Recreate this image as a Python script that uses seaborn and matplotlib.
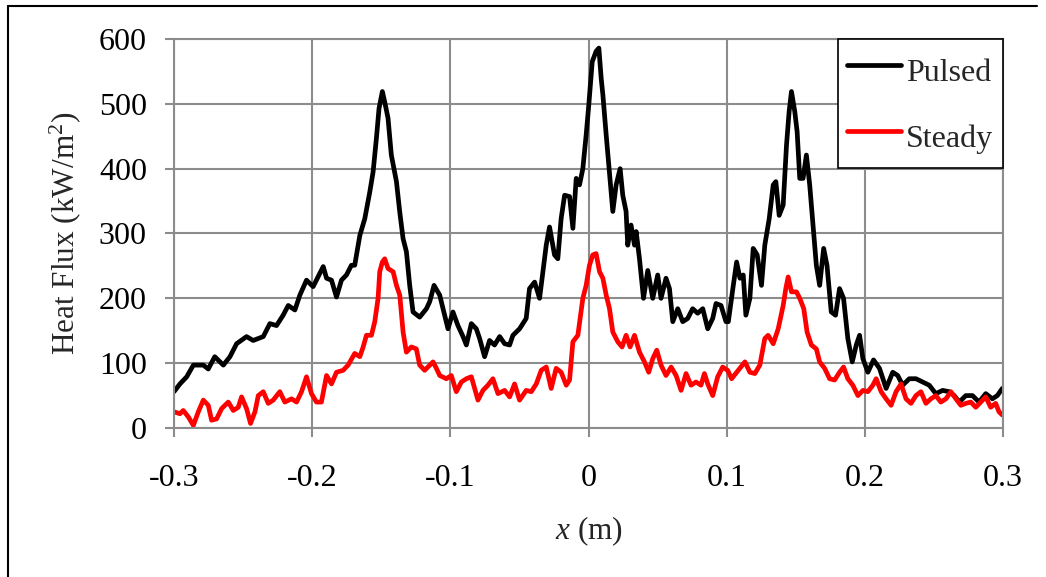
import numpy as np
import pandas as pd
import seaborn as sns
import matplotlib
matplotlib.use("Agg")
import matplotlib.pyplot as plt
from matplotlib.lines import Line2D

# ---- data ----
x_pulsed = [-0.300, -0.2957, -0.2908, -0.2860, -0.2788, -0.2752, -0.2705, -0.2643, -0.2595, -0.2547,
            -0.2475, -0.2427, -0.2354, -0.2306, -0.2258, -0.2210, -0.2173, -0.2125, -0.2089, -0.2041,
            -0.1993, -0.1920, -0.1896, -0.1860, -0.1824, -0.1788, -0.1752, -0.1716, -0.1692, -0.1655,
            -0.1619, -0.1583, -0.1559, -0.1535, -0.1516, -0.1492, -0.1475, -0.1451, -0.1427, -0.1390,
            -0.1366, -0.1342, -0.1318, -0.1294, -0.1270, -0.1222, -0.1173, -0.1149, -0.1118,
            -0.1077, -0.1053, -0.1017, -0.0981, -0.0945, -0.0908, -0.0884, -0.0848, -0.0812, -0.0788,
            -0.0752, -0.0716, -0.0680, -0.0643, -0.0607, -0.0571, -0.0547, -0.0499, -0.0451, -0.0427,
            -0.0390, -0.0354, -0.0330, -0.0306, -0.0282, -0.0246, -0.0222, -0.0198, -0.0173, -0.0137,
            -0.0113, -0.0089, -0.0065, -0.0041, -0.0017, 0.0002, 0.0027, 0.0055, 0.0075, 0.0092,
            0.0104, 0.0128, 0.0147, 0.0164, 0.0176, 0.0200, 0.0229, 0.0248, 0.0272, 0.0284,
            0.0308, 0.0333, 0.0345, 0.0369, 0.0398, 0.0429, 0.0465, 0.0501, 0.0525, 0.0561,
            0.0586, 0.0610, 0.0646, 0.0682, 0.0718, 0.0754, 0.0790, 0.0827, 0.0863, 0.0899,
            0.0923, 0.0959, 0.0995,
            0.1012, 0.1048, 0.1072, 0.1096, 0.1120, 0.1139, 0.1168, 0.1192, 0.1221, 0.1252,
            0.1276, 0.1308, 0.1337, 0.1356, 0.1380, 0.1409, 0.1433, 0.1452, 0.1469, 0.1493,
            0.1510, 0.1529, 0.1553, 0.1577, 0.1601, 0.1625, 0.1649, 0.1673, 0.1702, 0.1726,
            0.1757, 0.1788, 0.1817, 0.1846, 0.1877, 0.1909, 0.1938, 0.1962, 0.1986, 0.2022,
            0.2063, 0.2106, 0.2154, 0.2202, 0.2238, 0.2274, 0.2322, 0.2370, 0.2418, 0.2466,
            0.2514, 0.2563, 0.2611, 0.2647, 0.2683, 0.2731, 0.2779, 0.2827, 0.2875, 0.2923,
            0.2959, 0.2995]
y_pulsed = [56, 68, 79, 97, 97, 91, 110, 97, 110, 130,
            141, 135, 141, 161, 158, 174, 189, 182, 205, 228,
            218, 249, 231, 228, 202, 228, 236, 251, 251, 297,
            323, 364, 395, 447, 493, 519, 503, 478, 421, 380,
            333, 292, 272, 220, 179, 171, 184, 195, 220,
            205, 184, 153, 179, 158, 141, 128, 161, 153, 138,
            110, 135, 128, 141, 130, 128, 143, 153, 169, 215,
            225, 200, 241, 282, 310, 267, 261, 323, 359, 357,
            308, 385, 375, 400, 452, 498, 565, 581, 586, 539,
            514, 452, 406, 364, 334, 375, 400, 359, 334, 282,
            313, 282, 303, 261, 200, 243, 200, 236, 200, 231,
            215, 164, 184, 164, 169, 184, 177, 184, 153, 169,
            192, 189, 164,
            164, 220, 256, 231, 236, 174, 200, 277, 267, 220,
            282, 323, 375, 380, 328, 344, 436, 488, 519, 488,
            457, 385, 385, 421, 375, 313, 251, 220, 277, 251,
            179, 174, 215, 200, 138, 102, 128, 143, 107, 86,
            105, 92, 61, 86, 81, 66, 76, 76, 71, 66,
            53, 58, 56, 50, 40, 50, 50, 40, 53, 45,
            50, 61]

x_steady = [-0.3000, -0.2957, -0.2933, -0.2896, -0.2860, -0.2824, -0.2788, -0.2752, -0.2728, -0.2692,
            -0.2655, -0.2607, -0.2571, -0.2535, -0.2511, -0.2475, -0.2446, -0.2414, -0.2390, -0.2354,
            -0.2318, -0.2282, -0.2234, -0.2198, -0.2149, -0.2113, -0.2077, -0.2041, -0.2005, -0.1969,
            -0.1933, -0.1896, -0.1860, -0.1824, -0.1776, -0.1740, -0.1692, -0.1655, -0.1631, -0.1607,
            -0.1571, -0.1547, -0.1523, -0.1511, -0.1492, -0.1475, -0.1451, -0.1414, -0.1390, -0.1366,
            -0.1342, -0.1318, -0.1282, -0.1246, -0.1222, -0.1186, -0.1149, -0.1125, -0.1101,
            -0.1077, -0.1029, -0.0993, -0.0957, -0.0920, -0.0884, -0.0848, -0.0800, -0.0764, -0.0728,
            -0.0692, -0.0655, -0.0607, -0.0571, -0.0535, -0.0499, -0.0451, -0.0414, -0.0378, -0.0342,
            -0.0306, -0.0270, -0.0234, -0.0198, -0.0161, -0.0137, -0.0113, -0.0077, -0.0041, -0.0017,
            0.0007, 0.0031, 0.0055, 0.0080, 0.0104, 0.0128, 0.0152, 0.0176, 0.0212, 0.0243,
            0.0272, 0.0301, 0.0333, 0.0369, 0.0405, 0.0436, 0.0465, 0.0494, 0.0525, 0.0561,
            0.0598, 0.0634, 0.0670, 0.0706, 0.0742, 0.0778, 0.0814, 0.0839, 0.0863, 0.0899,
            0.0935, 0.0971, 0.1007,
            0.1036, 0.1084, 0.1132, 0.1168, 0.1204, 0.1240, 0.1276, 0.1300, 0.1337, 0.1373,
            0.1409, 0.1428, 0.1445, 0.1469, 0.1505, 0.1529, 0.1558, 0.1582, 0.1613, 0.1649,
            0.1673, 0.1709, 0.1745, 0.1781, 0.1817, 0.1846, 0.1877, 0.1913, 0.1950, 0.1986,
            0.2022, 0.2058, 0.2082, 0.2118, 0.2154, 0.2190, 0.2226, 0.2262, 0.2298, 0.2334,
            0.2370, 0.2406, 0.2442, 0.2478, 0.2514, 0.2550, 0.2587, 0.2623, 0.2659, 0.2695,
            0.2731, 0.2767, 0.2803, 0.2839, 0.2875, 0.2911, 0.2947, 0.2971, 0.2995]
y_steady = [25, 22, 27, 17, 4, 25, 43, 35, 12, 14,
            30, 40, 27, 32, 48, 30, 7, 25, 50, 56,
            38, 43, 56, 40, 45, 40, 56, 79, 53, 40,
            40, 81, 68, 86, 89, 97, 115, 110, 125, 143,
            143, 164, 200, 241, 256, 261, 246, 241, 220, 205,
            148, 117, 125, 122, 97, 89, 97, 102, 92,
            81, 76, 81, 56, 71, 76, 79, 43, 58, 66,
            76, 53, 58, 48, 68, 43, 58, 56, 68, 89,
            94, 61, 92, 86, 66, 74, 133, 143, 200, 220,
            251, 267, 269, 241, 231, 205, 184, 148, 133, 125,
            143, 125, 143, 117, 102, 86, 107, 120, 97, 81,
            94, 81, 58, 84, 66, 71, 66, 84, 68, 50,
            79, 94, 89,
            76, 89, 102, 86, 84, 97, 138, 143, 130, 153,
            189, 215, 233, 210, 210, 200, 184, 148, 128, 122,
            102, 92, 76, 74, 86, 94, 76, 66, 50, 58,
            56, 66, 76, 56, 45, 35, 56, 68, 45, 38,
            50, 56, 38, 45, 50, 40, 45, 56, 45, 35,
            38, 40, 32, 40, 48, 32, 38, 25, 20]

series_names = ["Pulsed", "Steady"]
series_colors = ["#000000", "#FF0000"]
x_ticks = [-0.3, -0.2, -0.1, 0, 0.1, 0.2, 0.3]
x_tick_labels = ["-0.3", "-0.2", "-0.1", "0", "0.1", "0.2", "0.3"]
y_ticks = [0, 100, 200, 300, 400, 500, 600]

df = pd.concat([
    pd.DataFrame({"x": x_pulsed, "q": y_pulsed, "series": series_names[0]}),
    pd.DataFrame({"x": x_steady, "q": y_steady, "series": series_names[1]}),
], ignore_index=True)

# ---- style ----
sns.set_style("white")
plt.rcParams["font.family"] = ["Liberation Serif", "DejaVu Serif"]
plt.rcParams["mathtext.fontset"] = "custom"
plt.rcParams["mathtext.rm"] = "Liberation Serif"
plt.rcParams["mathtext.it"] = "Liberation Serif:italic"

FS = 23
W, H = 1046, 577
fig = plt.figure(figsize=(W / 100, H / 100), dpi=100)
ax = fig.add_axes([174 / W, 1 - 428 / H, (1003 - 174) / W, (428 - 39) / H])

grid_col = "#8c8c8c"
ax.set_axisbelow(True)
ax.grid(True, color=grid_col, linewidth=1.5)

sns.lineplot(data=df, x="x", y="q", hue="series", hue_order=series_names,
             palette=series_colors, ax=ax, sort=False,
             estimator=None, legend=False)
for ln in ax.lines:
    ln.set_linewidth(3.4)
    ln.set_solid_joinstyle("round")
    ln.set_solid_capstyle("round")

ax.set_xlim(-0.3, 0.3)
ax.set_ylim(0, 600)
ax.set_xticks(x_ticks)
ax.set_xticklabels(x_tick_labels)
ax.set_yticks(y_ticks)
ax.tick_params(axis="both", labelsize=FS, colors="black")
ax.tick_params(axis="y", length=6.5, width=1.5, color=grid_col, pad=13, direction="out", left=True)
ax.tick_params(axis="x", length=6.5, width=1.5, color=grid_col, pad=19.5, direction="out", bottom=True)
for s in ax.spines.values():
    s.set_color(grid_col)
    s.set_linewidth(1.5)

ax.set_ylabel("Heat Flux (kW/m$^2$)", fontsize=22.5)
ax.set_xlabel("$x$ (m)", fontsize=22.5)
ax.yaxis.set_label_coords(-(174 - 83) / (1003 - 174), 0.5)
ax.xaxis.set_label_coords(0.5, -(514 - 428) / (428 - 39))

handles = [Line2D([], [], color=c, linewidth=3.4, solid_capstyle="round") for c in series_colors]
leg = ax.legend(handles, series_names, loc="upper right", bbox_to_anchor=(1.0, 1.0),
                frameon=True, fancybox=False, fontsize=FS, handlelength=1.7,
                handleheight=1.7, handletextpad=0.15, labelspacing=0.74, borderpad=0.3,
                borderaxespad=0.0)
leg.get_frame().set_edgecolor("black")
leg.get_frame().set_linewidth(1.2)
leg.get_frame().set_facecolor("white")
leg.get_frame().set_alpha(1.0)

# outer border of the chart area (left and top edges visible)
fig.add_artist(Line2D([8 / W, 8 / W], [0, 1 - 6 / H], transform=fig.transFigure,
                      color="black", linewidth=1.5))
fig.add_artist(Line2D([8 / W, 1037 / W], [1 - 6 / H, 1 - 6 / H], transform=fig.transFigure,
                      color="black", linewidth=1.5))

fig.savefig("out.png", dpi=100)
